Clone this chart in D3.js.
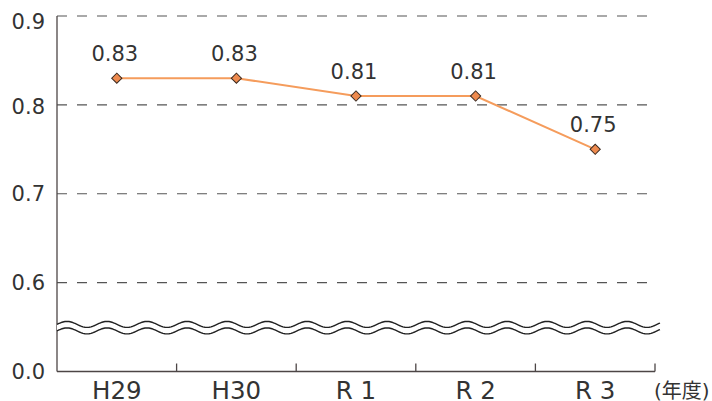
<!DOCTYPE html>
<html>
<head>
<meta charset="utf-8">
<script src="https://cdn.jsdelivr.net/npm/d3@7"></script>
<style>
  body { margin: 0; background: #fff; }
  text { font-family: "DejaVu Sans", "Noto Sans CJK JP", sans-serif; fill: #333; }
</style>
</head>
<body>
<svg id="chart" width="712" height="401"></svg>
<script>
// data
const years = ['H29', 'H30', 'R 1', 'R 2', 'R 3'];
const values = [0.83, 0.83, 0.81, 0.81, 0.75];
const tickValues = [0.5, 0.6, 0.7, 0.8, 0.9];
const tickLabels = ['0.0', '0.6', '0.7', '0.8', '0.9'];

const svg = d3.select('#chart');
const mLeft = 57, mRight = 655, mTop = 16, mBottom = 371.5;

const x = d3.scaleBand().domain(years).range([mLeft, mRight]).padding(0);
const y = d3.scaleLinear().domain([0.5, 0.9]).range([mBottom, mTop]);

const axisColor = '#4d4646';

// dashed gridlines
svg.append('g')
  .selectAll('line')
  .data(tickValues.slice(1))
  .join('line')
  .attr('x1', mLeft).attr('x2', mRight)
  .attr('y1', d => y(d)).attr('y2', d => y(d))
  .attr('stroke', '#555')
  .attr('stroke-width', 1.2)
  .attr('stroke-dasharray', '10,10');

// y axis line + labels (top one sits a little lower so it is not clipped)
svg.append('line')
  .attr('x1', mLeft).attr('x2', mLeft)
  .attr('y1', mTop).attr('y2', mBottom)
  .attr('stroke', axisColor).attr('stroke-width', 1.3);

svg.append('g')
  .selectAll('text')
  .data(tickValues)
  .join('text')
  .attr('x', mLeft - 12)
  .attr('y', d => y(d) + (d === 0.9 ? 5 : d === 0.8 ? 1.5 : 0))
  .attr('dy', '0.36em')
  .attr('text-anchor', 'end')
  .attr('font-size', 21)
  .text((d, i) => tickLabels[i]);

// x axis with ticks at band edges
const xAxis = d3.axisBottom(x).tickSize(0).tickPadding(0).tickFormat('');
svg.append('g')
  .attr('transform', `translate(0,${mBottom})`)
  .call(xAxis)
  .call(g => g.selectAll('.tick').remove())
  .call(g => g.select('.domain').attr('stroke', axisColor).attr('stroke-width', 1.3).attr('d', `M${mLeft},0H${mRight}`));

const edges = years.map(d => x(d) + x.bandwidth());
svg.append('g')
  .selectAll('line')
  .data(edges)
  .join('line')
  .attr('x1', d => d).attr('x2', d => d)
  .attr('y1', mBottom).attr('y2', mBottom - 8)
  .attr('stroke', axisColor).attr('stroke-width', 1.3);

svg.append('g')
  .selectAll('text')
  .data(years)
  .join('text')
  .attr('x', d => x(d) + x.bandwidth() / 2)
  .attr('y', 398.5)
  .attr('text-anchor', 'middle')
  .attr('font-size', 24.5)
  .text(d => d);

svg.append('text')
  .attr('x', 654)
  .attr('y', 398)
  .attr('font-family', '"Noto Sans CJK JP", sans-serif')
  .attr('font-size', 20)
  .text('(年度)');

// axis break: two wavy lines with white between
const period = 40, amp = 3;
function wavePts(yc) {
  return d3.range(mLeft, mRight + 6, 1).map(px => [px, yc - amp * Math.sin((px - mLeft) / period * 2 * Math.PI)]);
}
const b1 = y(0.553), b2 = b1 + 6.5;
const band = wavePts(b1).concat(wavePts(b2).reverse());
svg.append('path')
  .attr('d', d3.line()(band) + 'Z')
  .attr('fill', '#fff');
[b1, b2].forEach(yc => {
  svg.append('path')
    .attr('d', d3.line()(wavePts(yc)))
    .attr('fill', 'none')
    .attr('stroke', '#222')
    .attr('stroke-width', 1.4);
});

// line + markers
const cx = d => x(d) + x.bandwidth() / 2;
svg.append('path')
  .datum(values)
  .attr('d', d3.line().x((d, i) => cx(years[i])).y(d => y(d)))
  .attr('fill', 'none')
  .attr('stroke', '#f59c5c')
  .attr('stroke-width', 2);

svg.append('g')
  .selectAll('path')
  .data(values)
  .join('path')
  .attr('d', d3.symbol(d3.symbolSquare, 52))
  .attr('transform', (d, i) => `translate(${cx(years[i])},${y(d)}) rotate(45)`)
  .attr('fill', '#ee8a4e')
  .attr('stroke', '#3a2a20')
  .attr('stroke-width', 1);

svg.append('g')
  .selectAll('text')
  .data(values)
  .join('text')
  .attr('x', (d, i) => cx(years[i]) - 2)
  .attr('y', d => y(d) - 17)
  .attr('text-anchor', 'middle')
  .attr('font-size', 21)
  .text(d => d.toFixed(2));
</script>
</body>
</html>
